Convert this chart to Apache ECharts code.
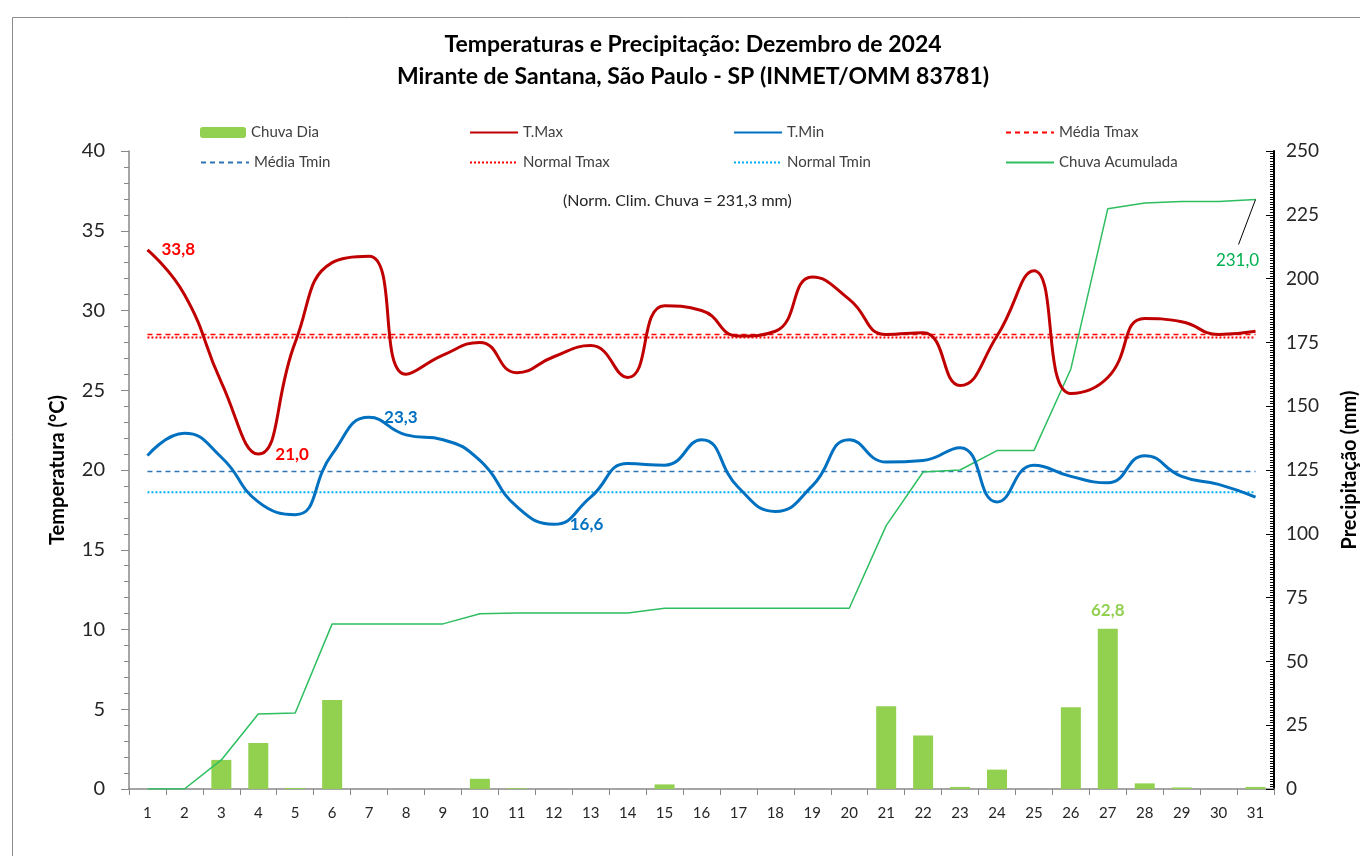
<!DOCTYPE html>
<html>
<head>
<meta charset="utf-8">
<script src="https://cdn.jsdelivr.net/npm/echarts@6/dist/echarts.min.js"></script>
<style>
  html, body { margin: 0; padding: 0; background: #fff; }
  #chart { width: 1360px; height: 856px; }
</style>
</head>
<body>
<div id="chart"></div>
<script>
// dias do mês
var dias = ['1','2','3','4','5','6','7','8','9','10','11','12','13','14','15','16','17','18','19','20','21','22','23','24','25','26','27','28','29','30','31'];
// temperaturas (°C)
var tMax = [33.8, 31.0, 25.5, 21.0, 28.0, 33.0, 33.4, 26.0, 27.2, 28.0, 26.1, 27.1, 27.8, 25.8, 30.3, 30.0, 28.4, 28.7, 32.1, 30.7, 28.5, 28.6, 25.3, 28.4, 32.5, 24.8, 25.8, 29.5, 29.3, 28.5, 28.7];
var tMin = [20.9, 22.3, 20.8, 18.0, 17.2, 21.0, 23.3, 22.2, 21.9, 20.6, 17.7, 16.6, 18.3, 20.4, 20.3, 21.9, 18.9, 17.4, 19.0, 21.9, 20.5, 20.6, 21.4, 18.0, 20.3, 19.6, 19.2, 20.9, 19.6, 19.1, 18.3];
// chuva (mm)
var chuvaDia = [0, 0, 11.4, 18.0, 0.4, 34.9, 0, 0, 0, 4.0, 0.3, 0, 0, 0, 1.8, 0, 0, 0, 0, 0, 32.4, 21.0, 0.8, 7.6, 0, 32.0, 62.8, 2.2, 0.6, 0, 0.8];
var chuvaAcum = [0, 0, 11.4, 29.4, 29.8, 64.7, 64.7, 64.7, 64.7, 68.7, 69.0, 69.0, 69.0, 69.0, 70.8, 70.8, 70.8, 70.8, 70.8, 70.8, 103.2, 124.2, 125.0, 132.6, 132.6, 164.6, 227.4, 229.6, 230.2, 230.2, 231.0];
// médias e normais
var mediaTmax = 28.5;
var normalTmax = 28.3;
var mediaTmin = 19.9;
var normalTmin = 18.6;
var tempTicks = [0, 40, 5];
var chuvaTicks = [0, 250, 25];

var FONT = 'Lato, "Open Sans", sans-serif';
var fmt = function (v) { return v.toFixed(1).replace('.', ','); };

// rótulos de destaque
function rotulo(cor, extra) {
  return Object.assign({ show: true, position: 'right', distance: 14, color: cor, fontFamily: FONT, fontWeight: 'bold', fontSize: 17,
    formatter: function (p) { return fmt(p.value); } }, extra || {});
}
function marcar(arr, marcas) {
  return arr.map(function (v, i) {
    return marcas[i] ? { value: v, label: marcas[i] } : v;
  });
}
var ultimo = chuvaAcum.length - 1;
var tMaxData = marcar(tMax, { 0: rotulo('#FF0000'), 3: rotulo('#FF0000', { distance: 17 }) });
var tMinData = marcar(tMin, { 6: rotulo('#0070C0', { distance: 15 }), 11: rotulo('#0070C0', { distance: 16 }) });
var chuvaDiaData = marcar(chuvaDia, { 26: rotulo('#92D050', { position: 'top', distance: 10 }) });
var marcaAcum = {};
marcaAcum[ultimo] = rotulo('#00B050', { position: 'bottom', fontWeight: 'normal', distance: 5, offset: [-18, 48] });
var chuvaAcumData = marcar(chuvaAcum, marcaAcum);

function constante(v) { return dias.map(function () { return v; }); }

// legenda em 4 colunas x 2 linhas
var legCols = [200, 469, 733, 1005];
var legRows = [125, 155];
var legNomes = [['Chuva Dia', 'T.Max', 'T.Min', 'Média Tmax'], ['Média Tmin', 'Normal Tmax', 'Normal Tmin', 'Chuva Acumulada']];
var legends = [];
legNomes.forEach(function (linha, r) {
  linha.forEach(function (nome, c) {
    var barra = nome === 'Chuva Dia';
    legends.push({
      data: [nome], left: legCols[c], top: legRows[r], padding: 0,
      itemWidth: barra ? 46 : 48, itemHeight: barra ? 11 : 14,
      itemStyle: barra ? {} : { opacity: 0 },
      textStyle: { fontFamily: FONT, fontSize: 15, color: '#404040' },
      selectedMode: false
    });
  });
});

var chart = echarts.init(document.getElementById('chart'));
chart.setOption({
  backgroundColor: '#fff',
  animation: false,
  title: {
    text: 'Temperaturas e Precipitação: Dezembro de 2024\nMirante de Santana, São Paulo - SP (INMET/OMM 83781)',
    left: 688, top: 24, textAlign: 'center',
    textStyle: { fontFamily: FONT, fontSize: 23, fontWeight: 'bold', color: '#000', lineHeight: 32 }
  },
  legend: legends,
  grid: { left: 129, right: 86, top: 151, bottom: 67, containLabel: false, outerBoundsMode: 'none' },
  graphic: [
    { id: 'moldura', type: 'rect', left: 10, top: 15, shape: { width: 1400, height: 900 }, style: { fill: 'none', stroke: '#8c8c8c', lineWidth: 1 }, silent: true },
    { id: 'norma', type: 'text', left: 563, top: 193, style: { text: '(Norm. Clim. Chuva = 231,3 mm)', fontFamily: FONT, fontSize: 16, fill: '#262626' } }
  ],
  xAxis: {
    type: 'category', data: dias, boundaryGap: true,
    axisLine: { lineStyle: { color: '#888', width: 1.5 } },
    axisTick: { show: true, length: 6, lineStyle: { color: '#888' } },
    axisLabel: { fontFamily: FONT, fontSize: 15, color: '#262626', margin: 17 }
  },
  yAxis: [{
    type: 'value', min: tempTicks[0], max: tempTicks[1], interval: tempTicks[2],
    name: 'Temperatura (°C)', nameLocation: 'middle', nameGap: 61, nameRotate: 90,
    nameTextStyle: { fontFamily: FONT, fontSize: 20, fontWeight: 'bold', color: '#000' },
    axisLine: { show: true, lineStyle: { color: '#888', width: 1.5 } },
    axisTick: { show: true, length: 8, lineStyle: { color: '#888' } },
    minorTick: { show: true, splitNumber: 5, length: 5, lineStyle: { color: '#888' } },
    splitLine: { show: false },
    axisLabel: { fontFamily: FONT, fontSize: 20, color: '#262626', margin: 24 }
  }, {
    type: 'value', min: chuvaTicks[0], max: chuvaTicks[1], interval: chuvaTicks[2],
    name: 'Precipitação (mm)', nameLocation: 'middle', nameGap: 66, nameRotate: 90,
    nameTextStyle: { fontFamily: FONT, fontSize: 20, fontWeight: 'bold', color: '#000' },
    axisLine: { show: true, lineStyle: { color: '#000', width: 2 } },
    axisTick: { show: true, inside: true, length: 8, lineStyle: { color: '#000' } },
    minorTick: { show: true, splitNumber: 25, length: 4, lineStyle: { color: '#000' } },
    splitLine: { show: false },
    axisLabel: { fontFamily: FONT, fontSize: 19, color: '#262626', margin: 12 }
  }],
  series: [
    { name: 'Chuva Dia', type: 'bar', yAxisIndex: 1, data: chuvaDiaData, barWidth: 20, itemStyle: { color: '#92D050' }, z: 1 },
    { name: 'T.Max', type: 'line', data: tMaxData, smooth: 0.5, symbol: 'circle', symbolSize: 0, showSymbol: true, lineStyle: { color: '#C00000', width: 3 }, itemStyle: { color: '#C00000' }, z: 5 },
    { name: 'T.Min', type: 'line', data: tMinData, smooth: 0.5, symbol: 'circle', symbolSize: 0, showSymbol: true, lineStyle: { color: '#0070C0', width: 3 }, itemStyle: { color: '#0070C0' }, z: 5 },
    { name: 'Média Tmax', type: 'line', data: constante(mediaTmax), symbol: 'none', lineStyle: { color: '#FF0000', width: 1.5, type: [5, 4] }, itemStyle: { color: '#FF0000' }, z: 3 },
    { name: 'Média Tmin', type: 'line', data: constante(mediaTmin), symbol: 'none', lineStyle: { color: '#2E75B6', width: 1.5, type: [5, 4] }, itemStyle: { color: '#2E75B6' }, z: 3 },
    { name: 'Normal Tmax', type: 'line', data: constante(normalTmax), symbol: 'none', lineStyle: { color: '#FF0000', width: 2, type: [2, 2] }, itemStyle: { color: '#FF0000' }, z: 3 },
    { name: 'Normal Tmin', type: 'line', data: constante(normalTmin), symbol: 'none', lineStyle: { color: '#00B0F0', width: 2, type: [2, 2] }, itemStyle: { color: '#00B0F0' }, z: 3 },
    {
      name: 'Chuva Acumulada', type: 'line', yAxisIndex: 1, data: chuvaAcumData, symbol: 'circle', symbolSize: 0, showSymbol: true,
      lineStyle: { color: '#2DBE60', width: 1.5 }, itemStyle: { color: '#2DBE60' }, z: 4
    }
  ]
});

// linha de chamada do rótulo do total acumulado, a partir do ponto do último dia
var p = chart.convertToPixel({ xAxisIndex: 0, yAxisIndex: 1 }, [dias[ultimo], chuvaAcum[ultimo]]);
chart.setOption({
  graphic: [{
    id: 'chamada', type: 'line', silent: true, z: 10,
    shape: { x1: p[0], y1: p[1], x2: p[0] - 17, y2: p[1] + 45 },
    style: { stroke: '#000', lineWidth: 1 }
  }]
});
</script>
</body>
</html>
